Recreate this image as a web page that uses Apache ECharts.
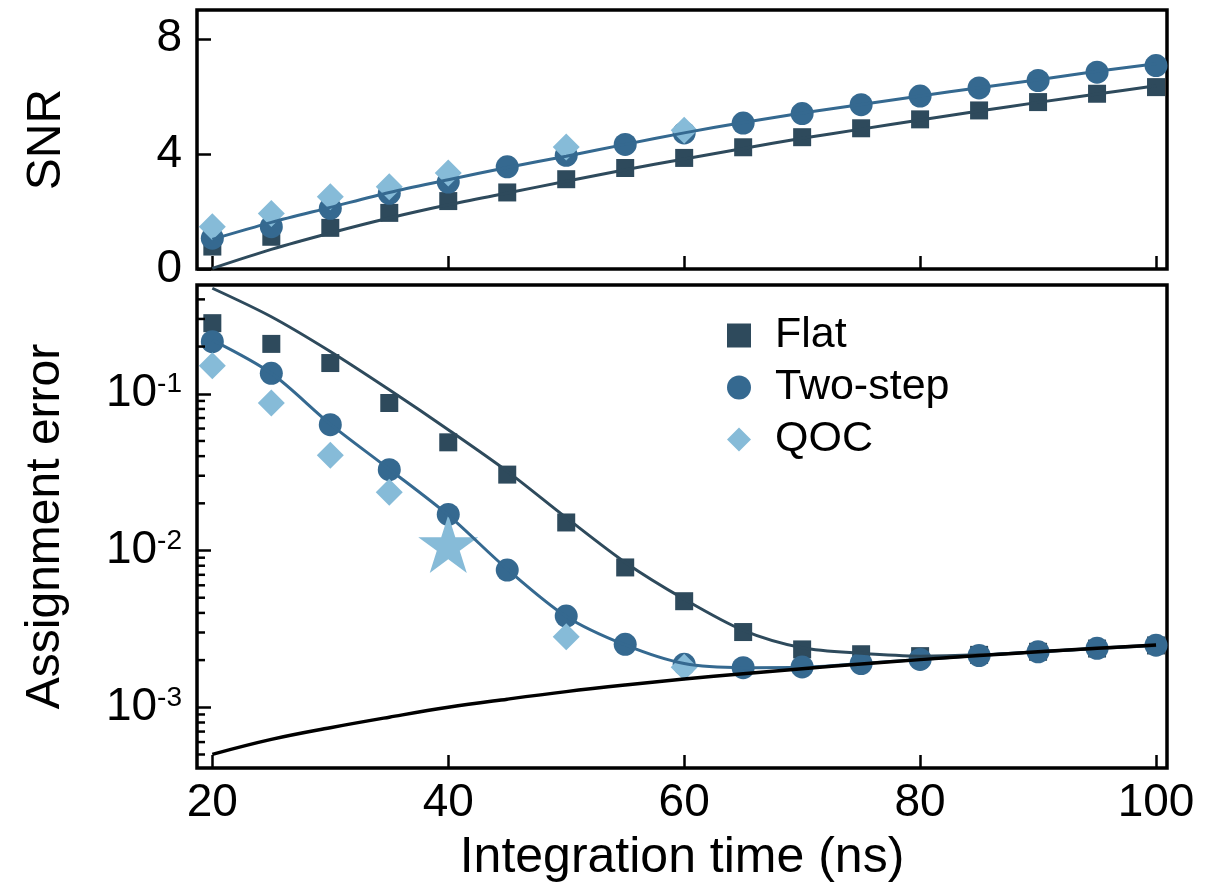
<!DOCTYPE html>
<html><head><meta charset="utf-8">
<script src="https://cdn.jsdelivr.net/npm/echarts@6/dist/echarts.min.js"></script>
<style>html,body{margin:0;padding:0;background:#fff}#c{width:1222px;height:888px}</style>
</head><body><div id="c"></div>
<script>
const FONT = '"Liberation Sans", Arial, Helvetica, sans-serif';
const flatC = '#2e4a5c', twoC = '#356990', qocC = '#86bbd8';

// x values (ns) and tick labels
const tNs = [20,25,30,35,40,45,50,55,60,65,70,75,80,85,90,95,100];
const xTicks = [20,40,60,80,100];
const snrTicks = [0,4,8];
const errMajorTicks = [0.001,0.01,0.1];
const errMinorTicks = [0.0005,0.0006,0.0007,0.0008,0.0009,
  0.002,0.003,0.004,0.005,0.006,0.007,0.008,0.009,
  0.02,0.03,0.04,0.05,0.06,0.07,0.08,0.09,
  0.2,0.3,0.4];

// SNR panel
const snrFlat    = [0.78,1.12,1.43,1.95,2.36,2.66,3.12,3.51,3.86,4.23,4.58,4.89,5.20,5.51,5.80,6.09,6.32];
const snrTwoStep = [1.07,1.47,2.11,2.63,3.02,3.55,3.95,4.33,4.73,5.07,5.40,5.71,6.01,6.29,6.55,6.84,7.07];
const snrQocT    = [20,25,30,35,40,50,60];
const snrQoc     = [1.47,1.93,2.51,2.86,3.34,4.24,4.82];
const snrFlatFit    = [0.02,0.68,1.25,1.77,2.23,2.64,3.05,3.45,3.82,4.19,4.54,4.86,5.18,5.49,5.79,6.08,6.37];
const snrTwoStepFit = [1.03,1.62,2.14,2.66,3.10,3.53,3.92,4.33,4.73,5.09,5.42,5.72,6.01,6.30,6.58,6.87,7.13];

// Assignment error panel
const errFlat    = [0.282,0.208,0.157,0.0873,0.049,0.0305,0.0151,0.0078,0.00475,0.00302,0.00234,0.00218,0.00212,0.00216,0.00226,0.00237,0.00248];
const errTwoStep = [0.215,0.135,0.0635,0.0328,0.017,0.0075,0.00382,0.00252,0.00188,0.00179,0.00181,0.0019,0.00202,0.00214,0.00226,0.00238,0.00249];
const errQocT    = [20,25,30,35,50,60];
const errQoc     = [0.151,0.0873,0.0405,0.0235,0.00282,0.0018];
const errFlatFit    = [0.471,0.31,0.186,0.106,0.059,0.032,0.0162,0.0084,0.0049,0.0031,0.0024,0.00221,0.00212,0.00216,0.00226,0.00237,0.00248];
const errTwoStepFit = [0.22,0.135,0.064,0.033,0.0168,0.0076,0.0038,0.0025,0.0019,0.00179,0.0018,0.0019,0.00202,0.00214,0.00226,0.00238,0.0025];
const errLimit      = [0.000501,0.000624,0.000741,0.000865,0.001,0.001127,0.001259,0.001387,0.001514,0.001637,0.001762,0.001888,0.002014,0.002138,0.002259,0.002382,0.002495];
const starT   = [40];
const starErr = [0.011];

const zip = (xs, ys) => xs.map((x, i) => [x, ys[i]]);
const STAR = 'path://M50,0 L61.2,34.5 L97.6,34.5 L68.2,55.9 L79.4,90.5 L50,69.1 L20.6,90.5 L31.8,55.9 L2.4,34.5 L38.8,34.5 Z';

const X_MIN = 18.7, X_MAX = 100.93;
const GRID_W = 970;
const tickStyle = {inside: true, length: 14, lineStyle: {color: '#000', width: 2.5}};
const lbl = {color: '#000', fontFamily: FONT, fontSize: 46};

const option = {
  animation: false,
  backgroundColor: '#fff',
  textStyle: {fontFamily: FONT},
  grid: [
    {left: 197, top: 10, width: GRID_W, height: 259, show: true, borderColor: '#000', borderWidth: 3.5, backgroundColor: 'transparent'},
    {left: 197, top: 285, width: GRID_W, height: 484, show: true, borderColor: '#000', borderWidth: 3.5, backgroundColor: 'transparent'}
  ],
  xAxis: [
    {type: 'value', gridIndex: 0, min: X_MIN, max: X_MAX, splitLine: {show: false}, axisLine: {show: false},
     axisTick: Object.assign({customValues: xTicks}, tickStyle, {length: 13}), axisLabel: {show: false}},
    {type: 'value', gridIndex: 1, min: X_MIN, max: X_MAX, splitLine: {show: false}, axisLine: {show: false},
     axisTick: Object.assign({customValues: xTicks}, tickStyle, {length: 13}),
     axisLabel: Object.assign({customValues: xTicks, margin: 12}, lbl),
     name: 'Integration time (ns)', nameLocation: 'middle', nameGap: 65,
     nameTextStyle: {color: '#000', fontFamily: FONT, fontSize: 50}}
  ],
  yAxis: [
    {type: 'value', gridIndex: 0, min: 0, max: 9, splitLine: {show: false}, axisLine: {show: false},
     axisTick: Object.assign({customValues: snrTicks}, tickStyle),
     axisLabel: Object.assign({customValues: snrTicks, margin: 15}, lbl),
     name: 'SNR', nameLocation: 'middle', nameGap: 126, nameRotate: 90,
     nameTextStyle: {color: '#000', fontFamily: FONT, fontSize: 48}},
    {type: 'log', gridIndex: 1, position: 'left', min: 0.00041, max: 0.494, splitLine: {show: false}, axisLine: {show: false},
     axisTick: Object.assign({customValues: errMajorTicks}, tickStyle),
     axisLabel: Object.assign({customValues: errMajorTicks, margin: 15,
       formatter: v => '{b|10}{s|' + Math.round(Math.log10(v)) + '}',
       rich: {b: {fontSize: 46, fontFamily: FONT, color: '#000', verticalAlign: 'bottom'},
              s: {fontSize: 28, fontFamily: FONT, color: '#000', verticalAlign: 'top'}}}, lbl),
     name: 'Assignment error', nameLocation: 'middle', nameGap: 127, nameRotate: 90,
     nameTextStyle: {color: '#000', fontFamily: FONT, fontSize: 48}}
  ],
  legend: {
    left: 727, top: 314, orient: 'vertical', padding: 0, itemGap: 9,
    itemWidth: 24, itemHeight: 24,
    data: [{name: 'Flat', icon: 'rect'}, {name: 'Two-step', icon: 'circle'}, {name: 'QOC', icon: 'diamond'}],
    formatter: n => '{t|' + n + '}',
    textStyle: {color: '#000', fontFamily: FONT, fontSize: 43,
      rich: {t: {fontSize: 43, fontFamily: FONT, color: '#000', padding: [0, 0, 0, 19]}}}
  },
  series: [
    {name: 'Flat fit', type: 'line', xAxisIndex: 0, yAxisIndex: 0, data: zip(tNs, snrFlatFit), smooth: 0.3, symbol: 'none',
     lineStyle: {color: flatC, width: 3}, itemStyle: {color: flatC}},
    {name: 'Two-step fit', type: 'line', xAxisIndex: 0, yAxisIndex: 0, data: zip(tNs, snrTwoStepFit), smooth: 0.3, symbol: 'none',
     lineStyle: {color: twoC, width: 3}, itemStyle: {color: twoC}},
    {name: 'Flat', type: 'scatter', xAxisIndex: 0, yAxisIndex: 0, data: zip(tNs, snrFlat), symbol: 'rect', symbolSize: 18, itemStyle: {color: flatC, opacity: 1}},
    {name: 'Two-step', type: 'scatter', xAxisIndex: 0, yAxisIndex: 0, data: zip(tNs, snrTwoStep), symbol: 'circle', symbolSize: 23, itemStyle: {color: twoC, opacity: 1}},
    {name: 'QOC', type: 'scatter', xAxisIndex: 0, yAxisIndex: 0, data: zip(snrQocT, snrQoc), symbol: 'diamond', symbolSize: 27, itemStyle: {color: qocC, opacity: 1}},

    // minor log ticks on the left edge of the lower panel, positioned by the log axis
    {name: 'minor ticks', type: 'custom', xAxisIndex: 1, yAxisIndex: 1, silent: true, z: 10,
     data: errMinorTicks.map(v => [X_MIN, v]),
     renderItem: (params, api) => {
       const p = api.coord([api.value(0), api.value(1)]);
       return {type: 'line', shape: {x1: p[0], y1: p[1], x2: p[0] + 8, y2: p[1]},
               style: {stroke: '#000', lineWidth: 2.5}};
     }},

    {name: 'Flat fit err', type: 'line', xAxisIndex: 1, yAxisIndex: 1, data: zip(tNs, errFlatFit), smooth: 0.3, symbol: 'none',
     lineStyle: {color: flatC, width: 3}, itemStyle: {color: flatC}},
    {name: 'Two-step fit err', type: 'line', xAxisIndex: 1, yAxisIndex: 1, data: zip(tNs, errTwoStepFit), smooth: 0.3, symbol: 'none',
     lineStyle: {color: twoC, width: 3}, itemStyle: {color: twoC}},
    {name: 'Limit', type: 'line', xAxisIndex: 1, yAxisIndex: 1, data: zip(tNs, errLimit), smooth: 0.4, symbol: 'none',
     lineStyle: {color: '#000', width: 3.5}, itemStyle: {color: '#000'}},
    {name: 'Flat', type: 'scatter', xAxisIndex: 1, yAxisIndex: 1, data: zip(tNs, errFlat), symbol: 'rect', symbolSize: 18, itemStyle: {color: flatC, opacity: 1}},
    {name: 'Two-step', type: 'scatter', xAxisIndex: 1, yAxisIndex: 1, data: zip(tNs, errTwoStep), symbol: 'circle', symbolSize: 23, itemStyle: {color: twoC, opacity: 1}},
    {name: 'QOC', type: 'scatter', xAxisIndex: 1, yAxisIndex: 1, data: zip(errQocT, errQoc), symbol: 'diamond', symbolSize: 27, itemStyle: {color: qocC, opacity: 1}},
    {name: 'QOC star', type: 'scatter', xAxisIndex: 1, yAxisIndex: 1, data: zip(starT, starErr), symbol: STAR, symbolSize: [60, 58], itemStyle: {color: qocC, opacity: 1}}
  ]
};
const chart = echarts.init(document.getElementById('c'), null, {renderer: 'canvas'});
chart.setOption(option);
</script>
</body></html>
